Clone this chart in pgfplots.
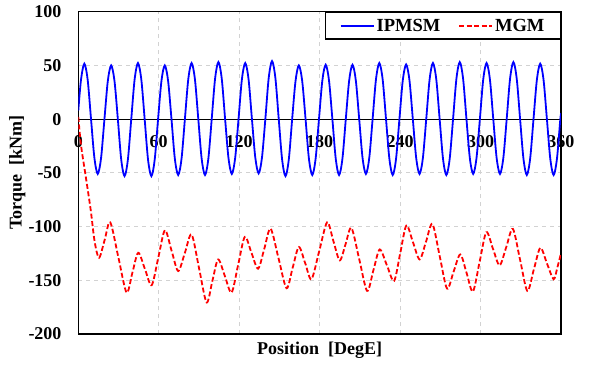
\documentclass[border=0pt]{standalone}
\usepackage{pgfplots}
\pgfplotsset{compat=1.18}
\usepackage{fontspec}
\setmainfont{Liberation Serif}
\newcommand{\lblfont}{\fontsize{18}{21}\selectfont\bfseries}
\begin{document}
\begin{tikzpicture}
\path[use as bounding box] (-78.3pt,-42pt) rectangle (511.7pt,334pt);
\begin{axis}[
  scale only axis,
  width=482.7pt, height=322.3pt,
  xmin=0, xmax=360, ymin=-200, ymax=100,
  axis line style={black, line width=1.2pt},
  tick style={draw=none},
  xtick={0,60,120,180,240,300,360},
  xticklabels={0,60,120,180,240,300,360},
  ytick={-200,-150,-100,-50,0,50,100},
  yticklabels={-200,-150,-100,-50,0,50,100},
  ticklabel style={font=\lblfont},
  xticklabel style={inner sep=0pt, anchor=center, yshift=192.5pt},
  yticklabel style={inner sep=0pt, anchor=east, xshift=-16.6pt},
  grid=major,
  major grid style={gray!35, dash pattern=on 4pt off 4pt, line width=0.9pt},
  extra y ticks={0},
  extra y tick labels={},
  extra y tick style={grid=major, major grid style={black, solid, line width=1pt}},
  xlabel={Position\ \ [DegE]},
  ylabel={Torque\ \ [kNm]},
  label style={font=\lblfont},
  xlabel style={at={(axis description cs:0.5,0)}, anchor=base, yshift=-20.3pt},
  ylabel style={at={(axis description cs:-0.1173,0.5)}, anchor=base},
  legend style={at={(1,1)}, anchor=north east, draw=black, line width=1.2pt,
    font=\fontsize{18.5}{21}\selectfont\bfseries, inner xsep=14pt, inner ysep=4.5pt,
    nodes={inner sep=2pt},
    /tikz/every even column/.append style={column sep=16pt}},
  legend columns=2,
  legend image code/.code={\draw[#1] (0pt,0pt) -- (33pt,0pt);},
]
\addplot[blue, line width=1.8pt, smooth] coordinates {
(0,8) (2,36.5) (4.5,51.6) (7,36.5) (9.5,0) (12,-36) (14.5,-51) (17,-36)
(19.5,0) (22,35.4) (24.5,50) (27,35.4) (29.5,0) (32,-37.5) (34.5,-53) (37,-37.5)
(39.5,0) (42,36.9) (44.5,52.2) (47,36.9) (49.5,0) (52,-37.5) (54.5,-53) (57,-37.5)
(59.5,0) (62,35.4) (64.5,50) (67,35.4) (69.5,0) (72,-36.8) (74.5,-52) (77,-36.8)
(79.5,0) (82,36.9) (84.5,52.2) (87,36.9) (89.5,0) (92,-36.8) (94.5,-52) (97,-36.8)
(99.5,0) (102,37.5) (104.5,53.1) (107,37.5) (109.5,0) (112,-36.1) (114.5,-51) (117,-36.1)
(119.5,0) (122,36.9) (124.5,52.2) (127,36.9) (129.5,0) (132,-35.7) (134.5,-50.5) (137,-35.7)
(139.5,0) (142,38.2) (144.5,54) (147,38.2) (149.5,0) (152,-37.5) (154.5,-53) (157,-37.5)
(159.5,0) (162,35.4) (164.5,50) (167,35.4) (169.5,0) (172,-36.8) (174.5,-52) (177,-36.8)
(179.5,0) (182,35.8) (184.5,50.6) (187,35.8) (189.5,0) (192,-36.8) (194.5,-52) (197,-36.8)
(199.5,0) (202,35.8) (204.5,50.6) (207,35.8) (209.5,0) (212,-36.1) (214.5,-51) (217,-36.1)
(219.5,0) (222,36.9) (224.5,52.2) (227,36.9) (229.5,0) (232,-36.8) (234.5,-52) (237,-36.8)
(239.5,0) (242,36) (244.5,50.9) (247,36) (249.5,0) (252,-36.1) (254.5,-51) (257,-36.1)
(259.5,0) (262,36.9) (264.5,52.2) (267,36.9) (269.5,0) (272,-36.8) (274.5,-52) (277,-36.8)
(279.5,0) (282,37.5) (284.5,53.1) (287,37.5) (289.5,0) (292,-36.1) (294.5,-51) (297,-36.1)
(299.5,0) (302,36.9) (304.5,52.2) (307,36.9) (309.5,0) (312,-36.1) (314.5,-51) (317,-36.1)
(319.5,0) (322,37.5) (324.5,53.1) (327,37.5) (329.5,0) (332,-36.8) (334.5,-52) (337,-36.8)
(339.5,0) (342,36.5) (344.5,51.6) (347,36.5) (349.5,0) (352,-36.8) (354.5,-52) (357,-36.8)
(359.5,0) (360,4)
};
\addlegendentry{IPMSM}
\addplot[red, line width=1.8pt, dash pattern=on 5pt off 2.5pt, smooth] coordinates {
(0,2) (2,-24) (5.5,-53) (9.2,-84) (12.2,-114) (15.5,-129)
(19.65,-112.5) (23.8,-96) (29.9,-128.7) (36,-161.4) (40.35,-142.9) (44.7,-124.4)
(49.7,-139.5) (54.7,-154.6) (59.65,-129) (64.6,-103.4) (69.55,-122.4) (74.5,-141.4)
(79.5,-124.4) (84.5,-107.4) (90.1,-139) (95.7,-170.7) (100,-150.6) (104.3,-130.6)
(109.3,-146) (114.3,-161.4) (119.25,-135.5) (124.2,-109.6) (129.15,-124.4) (134.1,-139.2)
(138.75,-120.5) (143.4,-101.9) (149.35,-129.6) (155.3,-157.4) (159.9,-138.2) (164.5,-119)
(169.2,-134) (173.9,-149) (179.75,-122.5) (185.6,-96) (190.3,-113.7) (195,-131.5)
(199.35,-116.3) (203.7,-101.2) (209.55,-130.5) (215.4,-159.9) (220.1,-140.6) (224.8,-121.3)
(230.15,-136) (235.5,-150.6) (240.1,-124.8) (244.7,-99) (249.65,-114.8) (254.6,-130.6)
(259.35,-114) (264.1,-97.5) (269.55,-127.6) (275,-157.7) (279.95,-141.8) (284.9,-125.9)
(289.6,-143.2) (294.3,-160.5) (299.3,-132.9) (304.3,-105.2) (309.25,-120.6) (314.2,-136.1)
(319.15,-119.2) (324.1,-102.2) (329.5,-131) (334.9,-159.9) (339.75,-139.9) (344.6,-119.8)
(349.55,-134.4) (354.5,-149) (357.3,-138) (360,-125)
};
\addlegendentry{MGM}
\end{axis}
\end{tikzpicture}
\end{document}
